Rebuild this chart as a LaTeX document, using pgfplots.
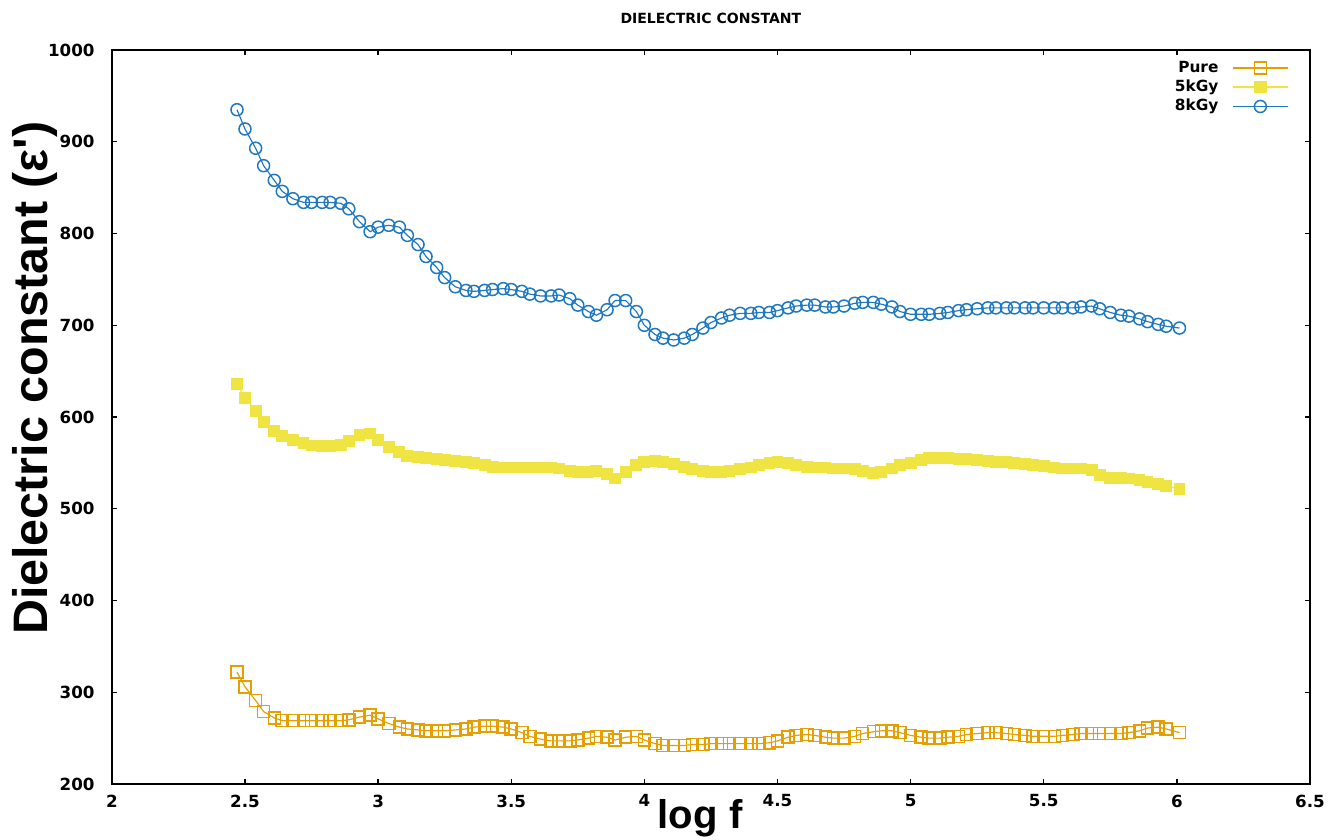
\documentclass[border=0pt]{standalone}
\usepackage{fontspec}
\usepackage{pgfplots}
\usepackage{pgfplotstable}
\pgfplotsset{compat=1.18}
\setmainfont{DejaVu Sans}
\newfontfamily\arial{Liberation Sans}

\definecolor{pureC}{HTML}{E69F00}
\definecolor{k5C}{HTML}{F0E442}
\definecolor{k8C}{HTML}{1F78C0}

\pgfplotstableread{
x pure k5 k8
2.47 322 636 935
2.50 306 621 914
2.54 291 607 893
2.57 279 595 874
2.61 272 585 858
2.64 269 579 846
2.68 269 575 838
2.72 269 572 834
2.75 269 569 834
2.79 269 568 834
2.82 269 568 834
2.86 269 570 833
2.89 270 574 827
2.93 273 580 813
2.97 275 582 802
3.00 271 575 807
3.04 266 567 809
3.08 262 562 807
3.11 260 558 798
3.15 259 556 788
3.18 258 555 775
3.22 258 554 763
3.25 258 553 752
3.29 259 552 742
3.33 260 551 738
3.36 262 550 737
3.40 263 548 738
3.43 263 546 739
3.47 262 545 740
3.50 260 545 739
3.54 256 545 737
3.57 252 545 734
3.61 249 545 732
3.65 247 545 732
3.68 247 544 733
3.72 247 541 729
3.75 248 540 722
3.79 250 540 715
3.82 252 541 711
3.86 251 538 717
3.89 248 533 727
3.93 251 540 727
3.97 252 548 715
4.00 248 551 700
4.04 244 552 690
4.07 242 551 686
4.11 242 549 684
4.15 242 546 686
4.18 243 543 690
4.22 243 541 697
4.25 244 540 703
4.29 244 540 708
4.32 244 541 711
4.36 244 543 713
4.40 244 545 713
4.43 244 548 714
4.47 245 550 714
4.50 247 551 716
4.54 251 550 719
4.57 253 548 721
4.61 254 546 722
4.64 253 545 722
4.68 251 545 720
4.71 250 544 720
4.75 250 544 721
4.79 252 543 724
4.82 255 541 725
4.86 257 539 725
4.89 258 540 723
4.93 258 544 720
4.96 256 548 715
5.00 253 550 712
5.04 251 553 712
5.07 250 555 712
5.11 250 555 713
5.14 251 555 714
5.18 252 554 716
5.21 254 554 717
5.25 255 553 718
5.29 256 552 719
5.32 256 551 719
5.36 255 551 719
5.39 254 550 719
5.43 253 549 719
5.46 252 548 719
5.50 252 547 719
5.54 252 545 719
5.57 253 544 719
5.61 254 544 719
5.64 255 544 720
5.68 255 542 721
5.71 255 537 718
5.75 255 534 714
5.79 255 534 711
5.82 256 533 710
5.86 258 531 707
5.89 261 529 704
5.93 262 527 701
5.96 260 525 699
6.01 256 522 697
}\dielectric

\begin{document}
\begin{tikzpicture}
\begin{axis}[
    scale only axis,
    width=358.8pt, height=219.8pt,
    xmin=2, xmax=6.5, ymin=200, ymax=1000,
    xtick={2,2.5,...,6.5},
    ytick={200,300,...,1000},
    xticklabels={2,2.5,3,3.5,4,4.5,5,5.5,6,6.5},
    yticklabel={\pgfmathprintnumber[fixed,precision=0,1000 sep={}]{\tick}},
    /pgf/number format/assume math mode=true,
    tick label style={font=\bfseries\fontsize{5}{6}\selectfont},
    xticklabel style={inner sep=0pt, anchor=north, yshift=-3pt},
    yticklabel style={inner sep=0pt, anchor=east, xshift=-5pt},
    tick align=inside,
    major tick length=1.6pt,
    tick style={black, line width=0.4pt},
    axis line style={black, line width=0.7pt},
    every axis title shift=0pt,
    title={DIELECTRIC CONSTANT},
    title style={font=\bfseries\fontsize{4.2}{5}\selectfont, at={(axis description cs:0.5,1)}, anchor=center, yshift=9.6pt},
    xlabel={log f},
    xlabel style={font=\arial\bfseries\fontsize{12}{14}\selectfont, at={(axis description cs:0.491,0)}, anchor=base, yshift=-13.2pt},
    ylabel={Dielectric constant (ε')},
    ylabel style={font=\arial\bfseries\fontsize{14.5}{16}\selectfont, at={(axis description cs:0,0.553)}, anchor=center, rotate=0, yshift=23pt},
    legend style={at={(axis description cs:0.983,0.99)}, anchor=north east, draw=none, fill=none,
        font=\bfseries\fontsize{4.6}{5.7}\selectfont, row sep=0pt, inner sep=0pt,
        nodes={inner sep=0.6pt, text height=3.6pt, text depth=1.0pt},
        /tikz/every odd column/.append style={column sep=3.5pt}},
    legend cell align=right,
    legend plot pos=right,
    legend image code/.code={
        \draw[#1, line width=0.5pt, mark repeat=2, mark phase=2] plot coordinates {(0pt,0pt) (8.2pt,0pt) (16.5pt,0pt)};
    },
    clip=false,
]
\addplot[color=pureC, line width=0.35pt, mark=square, mark size=1.8pt, mark options={line width=0.45pt}]
    table[x=x, y=pure] {\dielectric};
\addlegendentry{Pure}
\addplot[color=k5C, line width=0.35pt, mark=square*, mark size=1.6pt, mark options={fill=k5C, draw=k5C}]
    table[x=x, y=k5] {\dielectric};
\addlegendentry{5kGy}
\addplot[color=k8C, line width=0.35pt, mark=o, mark size=1.8pt, mark options={line width=0.45pt}]
    table[x=x, y=k8] {\dielectric};
\addlegendentry{8kGy}
\end{axis}
\pgfresetboundingbox
\path ([xshift=-33.5pt,yshift=-16.5pt]current axis.south west) rectangle ([xshift=7.5pt,yshift=15pt]current axis.north east);
\end{tikzpicture}
\end{document}
